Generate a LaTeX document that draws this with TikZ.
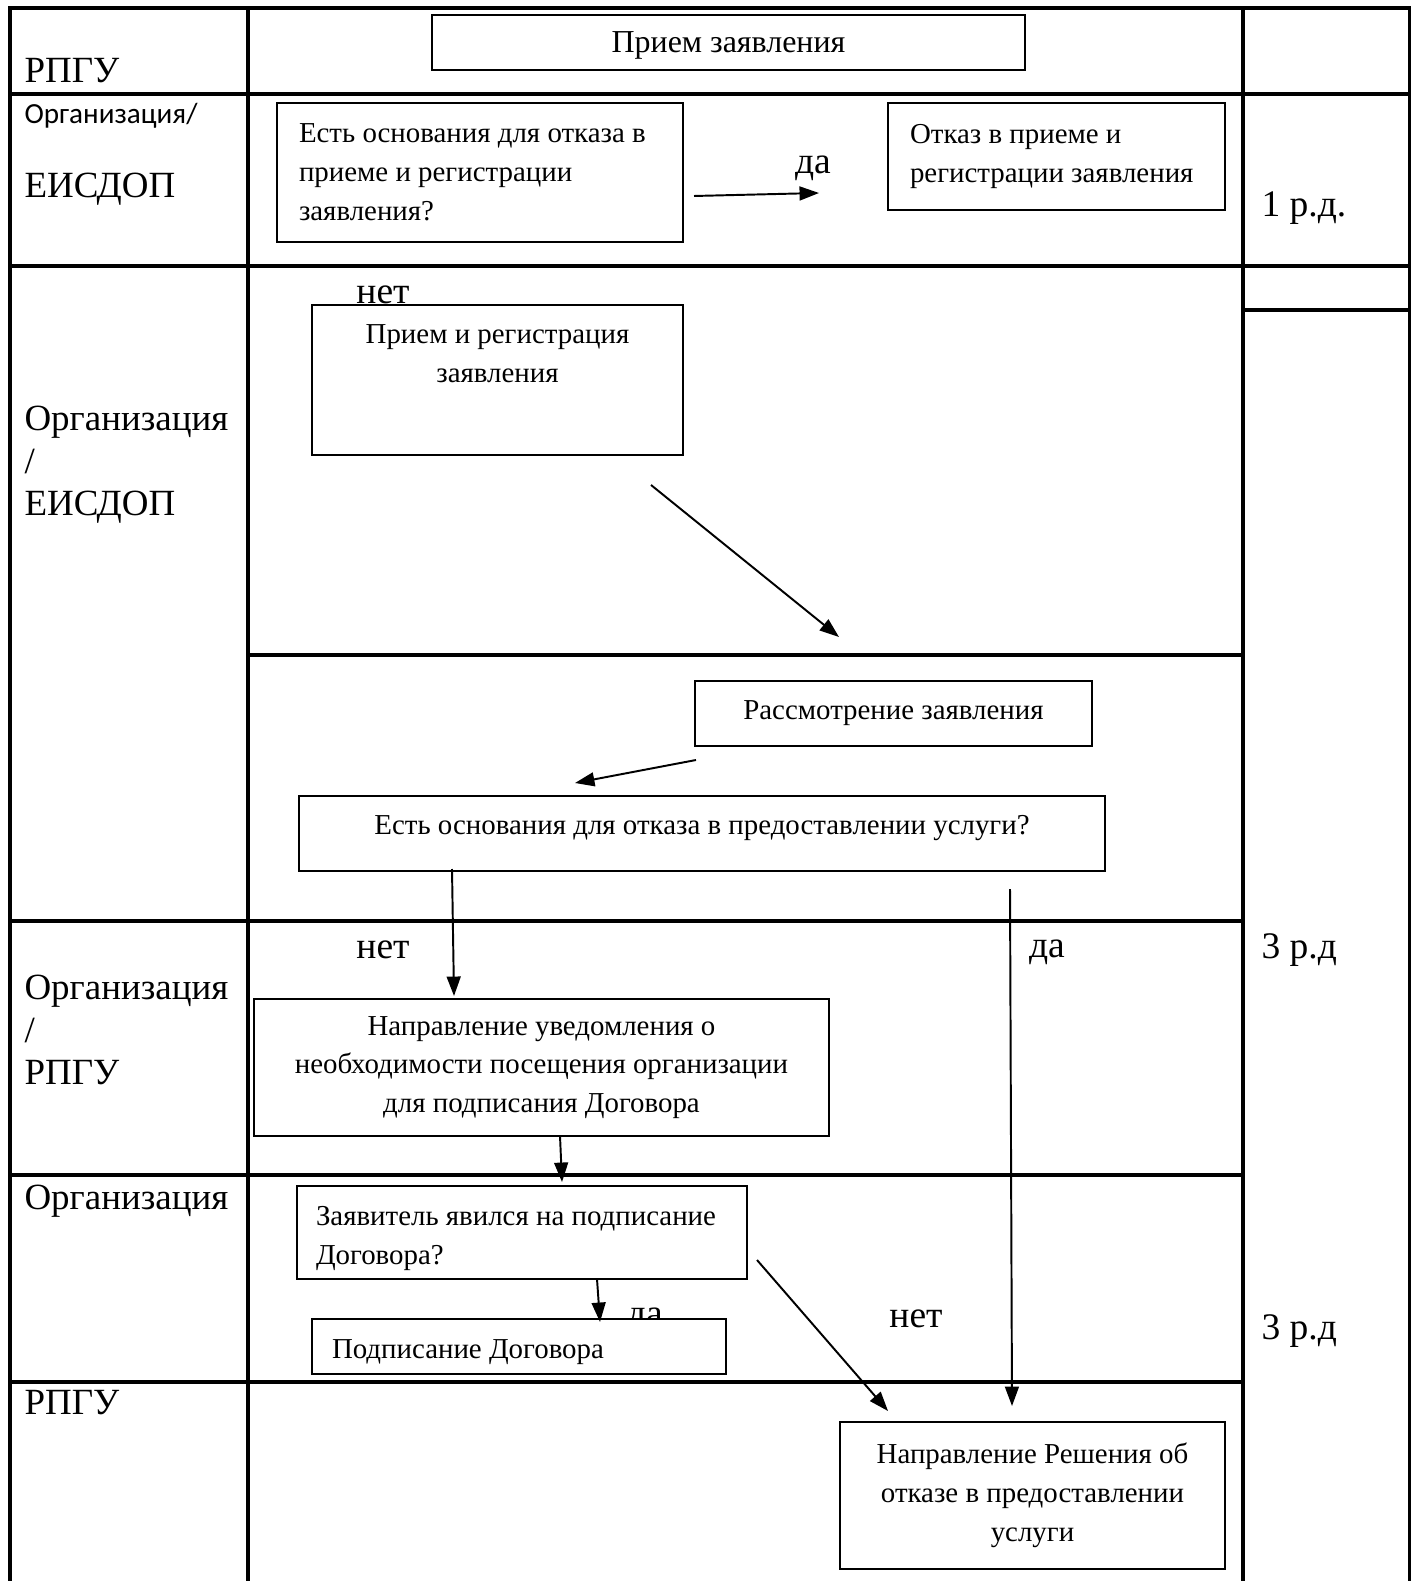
\documentclass[tikz,border=0pt]{standalone}
\usepackage{fontspec}
\setmainfont{Liberation Serif}
\newfontfamily\orgfont{Carlito}
\usetikzlibrary{arrows.meta}

\newcommand{\pxu}{0.36pt}
\newcommand{\bodyfont}{\fontsize{10.4}{14}\selectfont}

\begin{document}
\begin{tikzpicture}[x=0.36pt,y=-0.36pt,
	grid/.style={line width=1.1pt},
	box/.style={draw,line width=0.7pt,fill=white,inner sep=0pt,font=\bodyfont},
	sz/.style 2 args={minimum width=#1*\pxu,minimum height=#2*\pxu},
	lbox/.style 2 args={inner xsep=#1*\pxu,text width=#2*\pxu,align=flush left},
	toptext/.style={label={[inner sep=0pt,align=center,font=\bodyfont,below=7.2pt]north:#1}},
	arr/.style={line width=0.7pt,-{Triangle[length=7pt,width=5pt]}},
	lane/.style={anchor=west,inner sep=0pt,align=left,font=\fontsize{13.3}{15.3}\selectfont},
	tag/.style={inner sep=0pt,font=\fontsize{13.5}{16}\selectfont}]

	\useasboundingbox (0,0) rectangle (1414,1581);

	% table
	\draw[grid] (10,1581) -- (10,8) -- (1409,8) -- (1409,1581);
	\draw[grid] (248,8) -- (248,1581);
	\draw[grid] (1243,8) -- (1243,1581);
	\draw[grid] (10,94) -- (1409,94);
	\draw[grid] (10,266) -- (1409,266);
	\draw[grid] (1243,310) -- (1409,310);
	\draw[grid] (248,655) -- (1243,655);
	\foreach \y in {921,1175,1382}
		\draw[grid] (10,\y) -- (1243,\y);

	% lanes
	\node[lane] (rpgu1) at (24,71) {РПГУ};
	\node[lane,font=\orgfont\fontsize{10.5}{13}\selectfont] (org1) at (24,116) {Организация/};
	\node[lane] (eis1) at (24,189) {ЕИСДОП};
	\node[lane] (org2) at (24,465) {Организация\\/\\ЕИСДОП};
	\node[lane] (org3) at (24,1030) {Организация\\/\\РПГУ};
	\node[lane] (org4) at (24,1201) {Организация};
	\node[lane] (rpgu2) at (24,1403) {РПГУ};

	% terms
	\node[tag,anchor=west] (t1) at (1261,208) {1 р.д.};
	\node[tag,anchor=west] (t2) at (1261,950) {3 р.д};
	\node[tag,anchor=west] (t3) at (1261,1331) {3 р.д};

	% answers
	\node[tag] (yes1) at (813,168) {да};
	\node[tag] (no1) at (383,295) {нет};
	\node[tag] (no2) at (383,950) {нет};
	\node[tag] (yes2) at (1047,952) {да};
	\node[tag] (yes3) at (645,1320) {да};
	\node[tag] (no3) at (916,1319) {нет};

	% steps
	\node[box,sz={593}{55},font=\fontsize{11.5}{14}\selectfont,text height=10pt] (take) at (728.5,42.5) {Прием заявления};
	\node[box,sz={406}{139},lbox={22}{362}] (q1) at (480,172.5)
		{Есть основания для отказа в\\приеме и регистрации\\заявления?};
	\node[box,sz={337}{107},lbox={22}{293}] (refuse) at (1056.5,156.5)
		{Отказ в приеме и\\регистрации заявления};
	\node[box,sz={371}{150},toptext={Прием и регистрация\\заявления}] (reg) at (497.5,380) {};
	\node[box,sz={397}{65}] (look) at (893.5,713.5) {Рассмотрение заявления};
	\node[box,sz={806}{75},toptext={Есть основания для отказа в предоставлении услуги?}] (q2) at (702,833.5) {};
	\node[box,sz={575}{137},align=center] (notify) at (541.5,1067.5)
		{Направление уведомления о\\необходимости посещения организации\\для подписания Договора};
	\node[box,sz={450}{93},lbox={19}{412},text height=11pt] (came) at (522,1232.5)
		{Заявитель явился на подписание\\Договора?};
	\node[box,sz={414}{55},lbox={20}{374},text height=11pt] (sign) at (519,1346.5)
		{Подписание Договора};
	\node[box,sz={385}{147},align=center] (deny) at (1032.5,1495.5)
		{Направление Решения об\\отказе в предоставлении\\услуги};

	% connectors
	\coordinate (q1-yes) at (694,196);
	\coordinate (refuse-in) at (819,193);
	\coordinate (reg-out) at (651,485);
	\coordinate (look-in) at (839,637);
	\coordinate (look-out) at (696,760);
	\coordinate (q2-in) at (575,783);
	\coordinate (q2-no) at (452,869);
	\coordinate (notify-in) at (454,996);
	\coordinate (q2-yes) at (1010,889);
	\coordinate (deny-in) at (1012,1406);
	\coordinate (notify-out) at (560,1136);
	\coordinate (came-in) at (562,1182);
	\coordinate (came-yes) at (597,1279);
	\coordinate (sign-in) at (600,1322);
	\coordinate (came-no) at (757,1260);
	\coordinate (deny-in2) at (888,1411);

	\draw[arr] (q1-yes) -- (refuse-in);
	\draw[arr] (reg-out) -- (look-in);
	\draw[arr] (look-out) -- (q2-in);
	\draw[arr] (q2-no) -- (notify-in);
	\draw[arr] (q2-yes) -- (deny-in);
	\draw[arr] (notify-out) -- (came-in);
	\draw[arr] (came-yes) -- (sign-in);
	\draw[arr] (came-no) -- (deny-in2);

\end{tikzpicture}
\end{document}
